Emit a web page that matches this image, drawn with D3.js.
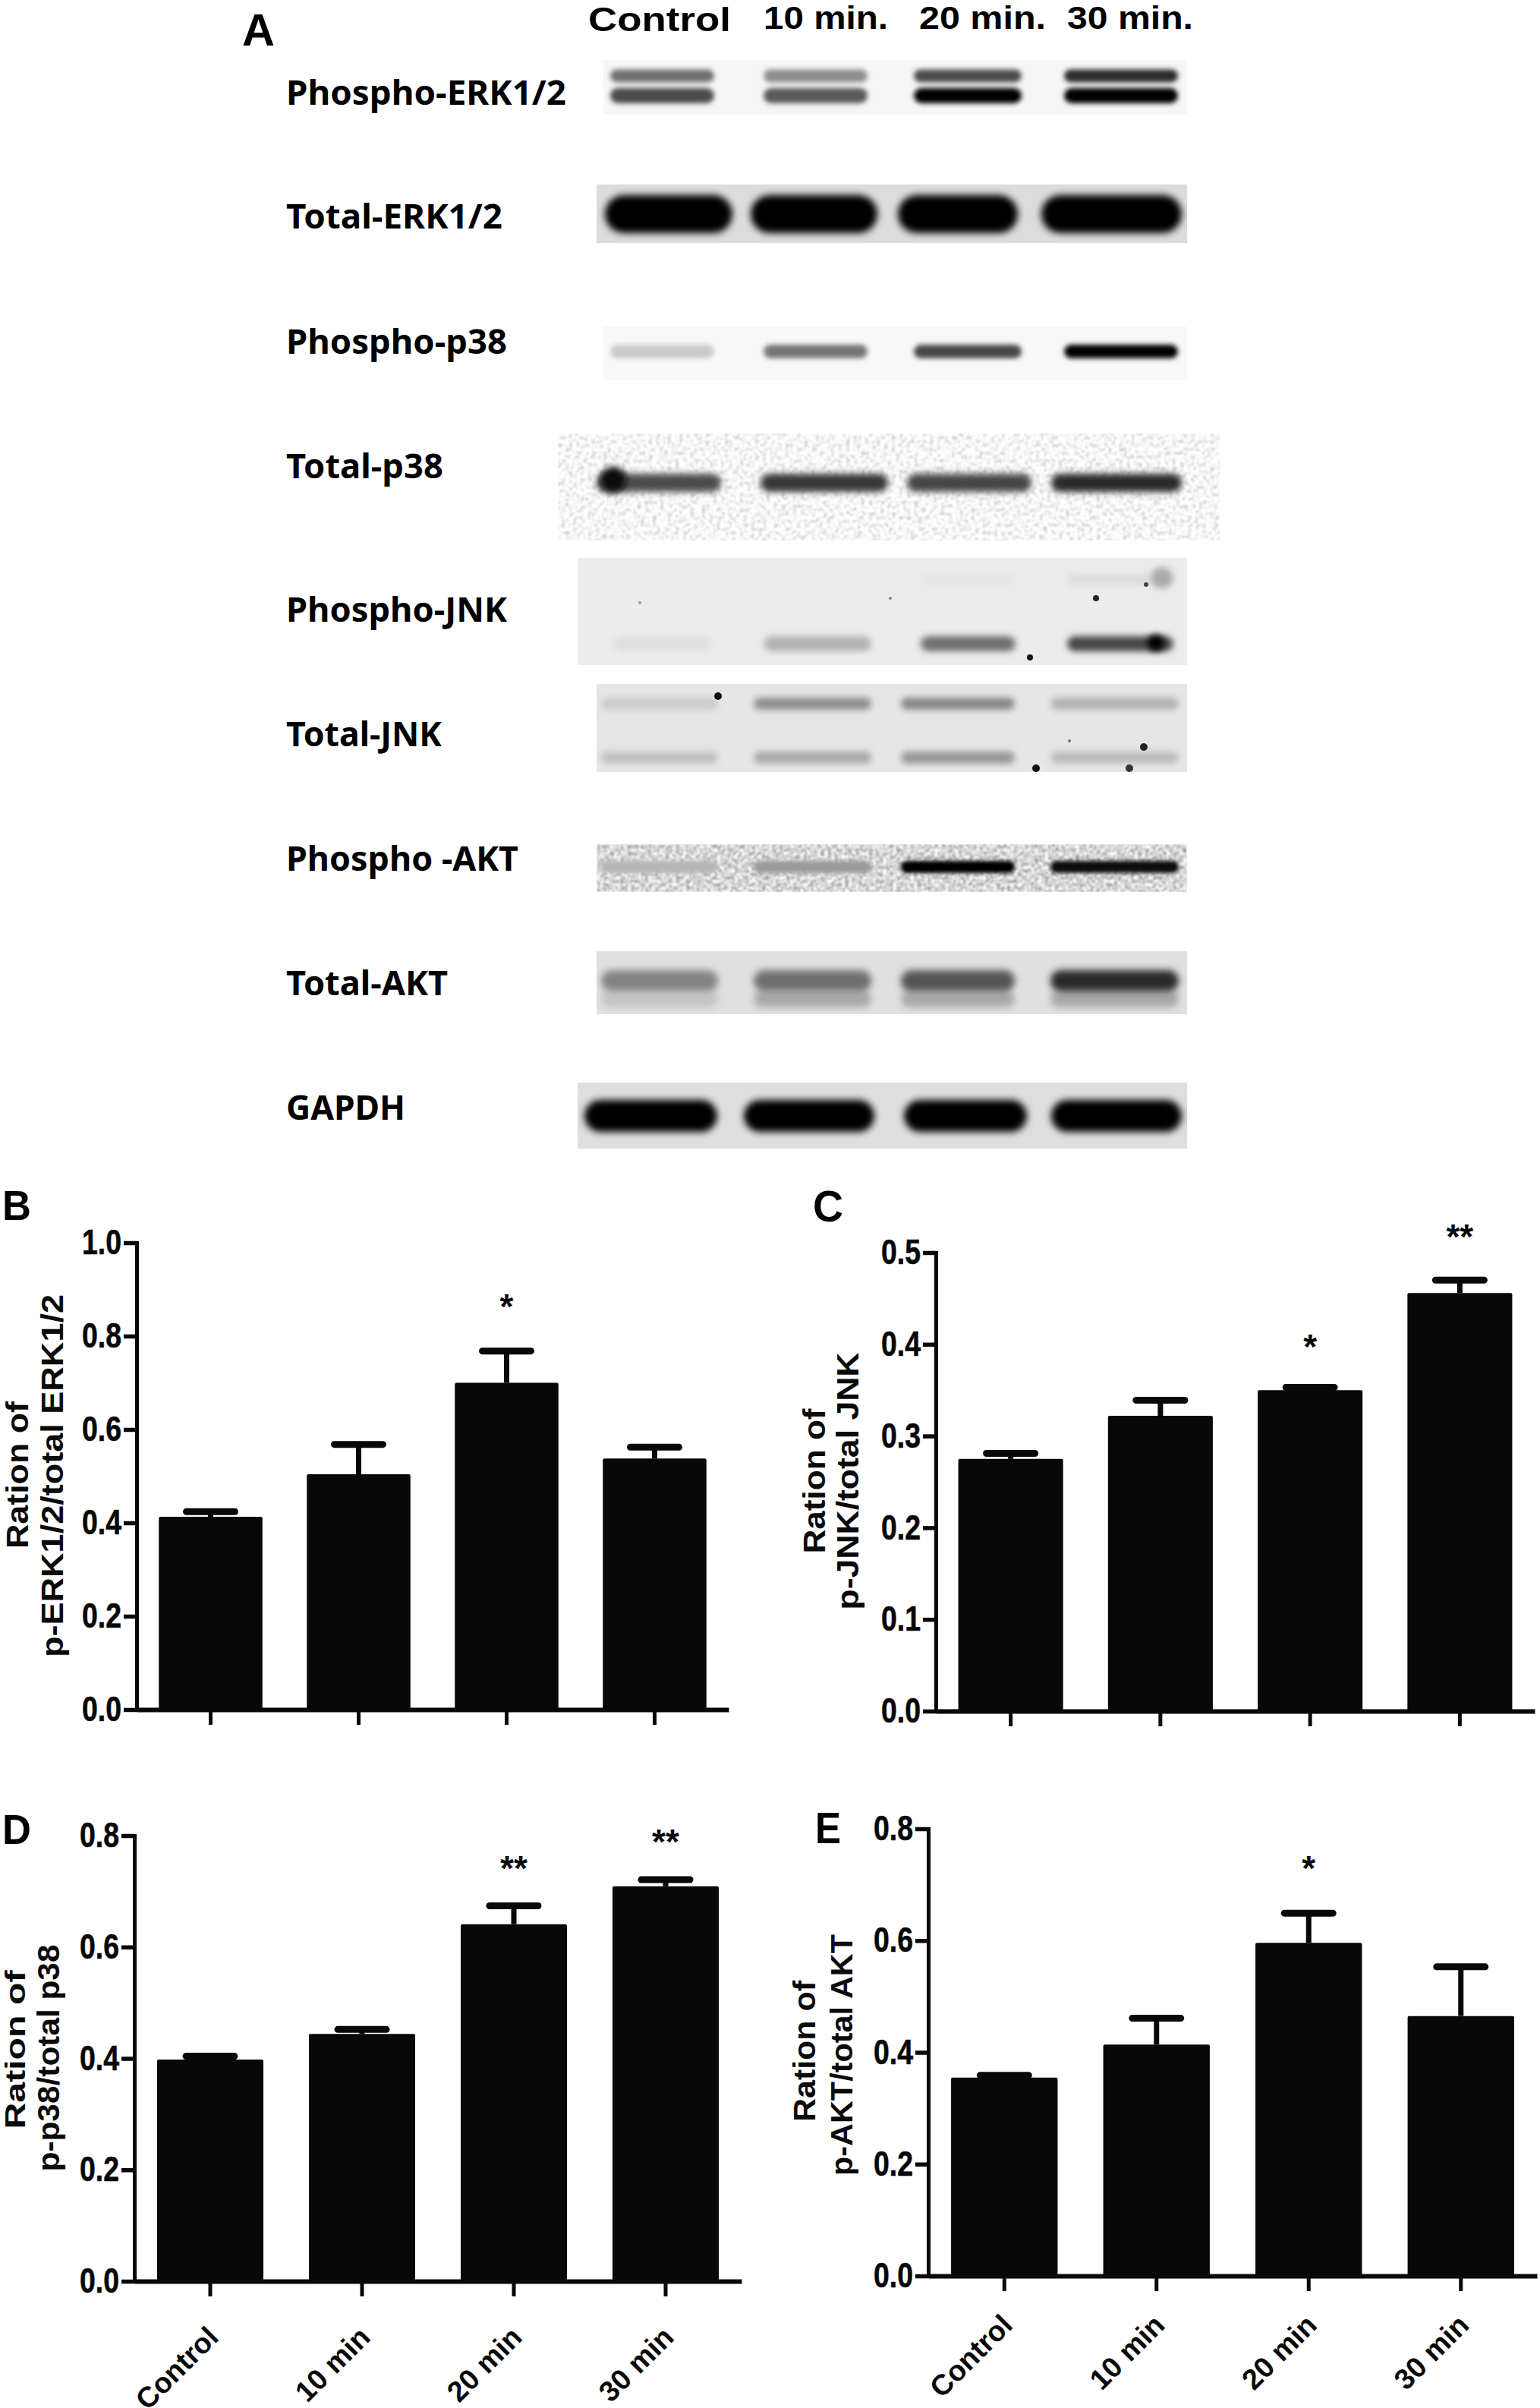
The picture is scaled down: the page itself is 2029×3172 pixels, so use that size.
<!DOCTYPE html>
<html><head><meta charset="utf-8">
<script src="https://cdnjs.cloudflare.com/ajax/libs/d3/7.8.5/d3.min.js"></script>
<style>html,body{margin:0;padding:0;background:#fff}svg{display:block}</style>
</head><body><div id="c"></div>
<script>
// ---------- chart values ----------
const categories = ["Control","10 min","20 min","30 min"];
const erkMean = [0.413,0.504,0.700,0.538];
const erkSem  = [0.011,0.064,0.068,0.024];
const erkStars = ["","","*",""];
const erkStarLevel = [0,0,0.87,0];
const erkTicks = [0,0.2,0.4,0.6,0.8,1.0];
const jnkMean = [0.275,0.322,0.350,0.456];
const jnkSem  = [0.006,0.017,0.003,0.014];
const jnkStars = ["","","*","**"];
const jnkStarLevel = [0,0,0.401,0.521];
const jnkTicks = [0,0.1,0.2,0.3,0.4,0.5];
const p38Mean = [0.398,0.444,0.641,0.709];
const p38Sem  = [0.006,0.008,0.033,0.012];
const p38Stars = ["","","**","**"];
const p38StarLevel = [0,0,0.747,0.794];
const p38Ticks = [0,0.2,0.4,0.6,0.8];
const aktMean = [0.355,0.414,0.596,0.465];
const aktSem  = [0.004,0.047,0.053,0.088];
const aktStars = ["","","*",""];
const aktStarLevel = [0,0,0.735,0];
const aktTicks = [0,0.2,0.4,0.6,0.8];

// ---------- blot band strengths, one per lane ----------
const laneHeaders = ["Control","10 min.","20 min.","30 min."];
const blotNames = ["Phospho-ERK1/2","Total-ERK1/2","Phospho-p38","Total-p38","Phospho-JNK","Total-JNK","Phospho -AKT","Total-AKT","GAPDH"];
const pErkUpper = [0.55,0.42,0.70,0.85];
const pErkLower = [0.70,0.64,1.00,1.00];
const tErk = [1,1,1,1];
const pP38 = [0.16,0.52,0.72,1.00];
const tP38 = [0.70,0.78,0.72,0.84];
const pJnkUpper = [0,0,0.04,0.08];
const pJnkLower = [0.07,0.26,0.55,0.72];
const tJnkUpper = [0.16,0.42,0.45,0.26];
const tJnkLower = [0.20,0.30,0.38,0.22];
const pAkt = [0.24,0.36,1.00,0.97];
const tAktUpper = [0.46,0.55,0.66,0.84];
const tAktLower = [0.18,0.30,0.30,0.30];
const gapdh = [1,1,1,1];

// ---------- layout ----------
const W=2029,H=3172;
const lanesA=[[804,941],[1006,1143],[1204,1346],[1402,1552]];
const lanesB=[[797,965],[989,1156],[1183,1341],[1372,1557]];
const lanesC=[[786,950],[1002,1170],[1195,1359],[1385,1557]];
const lanesD=[[808,937],[1006,1148],[1213,1338],[1406,1546]];
const lanesE=[[792,946],[993,1148],[1187,1337],[1384,1553]];
const lanesF=[[770,945],[980,1152],[1191,1353],[1385,1557]];
const blots=[
 {label:0,base:138,labelW:369,rect:[795,79,769,72],bg:"#f6f6f6",lanes:lanesA,blur:3,bands:[[pErkUpper,100,17],[pErkLower,126,20]]},
 {label:1,base:301,labelW:285,rect:[786,243,778,77],bg:"#dcdcdc",lanes:lanesB,blur:5,bands:[[tErk,282,50]]},
 {label:2,base:466,labelW:291,rect:[795,430,769,70],bg:"#f8f8f8",lanes:lanesA,blur:3,bands:[[pP38,463,18]]},
 {label:3,base:630,labelW:207,rect:[735,571,872,141],bg:"#f2f2f2",noise:"nA",lanes:lanesC,blur:4,bands:[[tP38,636,24]]},
 {label:4,base:819,labelW:291,rect:[761,735,803,141],bg:"#ececec",lanes:lanesD,blur:4,bands:[[pJnkUpper,763,14],[pJnkLower,848,20]]},
 {label:5,base:983,labelW:205,rect:[786,901,778,116],bg:"#e6e6e6",lanes:lanesE,blur:4,bands:[[tJnkUpper,927,16],[tJnkLower,998,16]]},
 {label:6,base:1147,labelW:306,rect:[786,1112,778,63],bg:"#d8d8d8",noise:"nB",lanes:lanesE,blur:2.5,bands:[[pAkt,1142,16]]},
 {label:7,base:1311,labelW:213,rect:[786,1253,778,83],bg:"#e0e0e0",lanes:lanesE,blur:5,bands:[[tAktLower,1316,22],[tAktUpper,1292,28]]},
 {label:8,base:1475,labelW:157,rect:[761,1426,803,87],bg:"#dedede",lanes:lanesF,blur:5,bands:[[gapdh,1470,42]]}
];
// image blemishes on the blots: [x, y, radius, grey]
const blemishes=[[1531,761,14,"#aaa"],[1523,847,11,"#000"],[1444,788,4,"#222"],[1357,866,4,"#111"],[1510,770,3,"#444"],[843,794,2,"#999"],[1173,788,2,"#888"],
 [946,917,5,"#111"],[1365,1012,5,"#111"],[1507,984,5,"#222"],[1488,1012,5,"#333"],[1409,976,2,"#777"],
 [808,632,17,"#111"]];
const headerPos=[[775,41,188,45],[1006,38,164,42],[1211,38,167,42],[1406,38,166,42]];
const panelLetters=[["A",319,60,43,60],["B",3,1607,38,55],["C",1071,1609,40,57],["D",3,2429,38,55],["E",1074,2428,34,57]];

const panels=[
 {mean:erkMean,sem:erkSem,stars:erkStars,lvl:erkStarLevel,ticks:erkTicks,top:1.0,x:[180,960],y:[2252,1637],title:["Ration of","p-ERK1/2/total ERK1/2"],tx:[37,83],tc:[1943,1944],tl:[194,478],ts:[40,40],labels:false},
 {mean:jnkMean,sem:jnkSem,stars:jnkStars,lvl:jnkStarLevel,ticks:jnkTicks,top:0.5,x:[1233,2022],y:[2254,1650],title:["Ration of","p-JNK/total JNK"],tx:[1087,1131],tc:[1951,1951],tl:[191,339],ts:[41,41],labels:false},
 {mean:p38Mean,sem:p38Sem,stars:p38Stars,lvl:p38StarLevel,ticks:p38Ticks,top:0.8,x:[177,977],y:[3005,2418],title:["Ration of","p-p38/total p38"],tx:[33,78],tc:[2700,2711],tl:[209,299],ts:[36,41],labels:true,ldy:76},
 {mean:aktMean,sem:aktSem,stars:aktStars,lvl:aktStarLevel,ticks:aktTicks,top:0.8,x:[1223,2025],y:[2998,2409],title:["Ration of","p-AKT/total AKT"],tx:[1074,1123],tc:[2702,2707],tl:[186,318],ts:[41,41],labels:true,ldy:67}
];

const BOLD='"Liberation Sans",Arial,sans-serif';
const svg=d3.select("#c").append("svg").attr("width",W).attr("height",H).attr("viewBox",`0 0 ${W} ${H}`);
svg.append("rect").attr("width",W).attr("height",H).attr("fill","#fff");
const defs=svg.append("defs");
[2.5,3,4,5].forEach(b=>defs.append("filter").attr("id","b"+String(b).replace(".","_"))
  .attr("x","-30%").attr("y","-80%").attr("width","160%").attr("height","260%")
  .append("feGaussianBlur").attr("stdDeviation",b));
function noise(id,freq,k,base){
  const f=defs.append("filter").attr("id",id).attr("x",0).attr("y",0).attr("width","100%").attr("height","100%").attr("color-interpolation-filters","sRGB");
  f.append("feTurbulence").attr("type","fractalNoise").attr("baseFrequency",freq).attr("numOctaves",2).attr("seed",4).attr("result","t");
  const o=base-k*0.5;
  f.append("feColorMatrix").attr("in","t").attr("type","matrix").attr("values",`${k} 0 0 0 ${o} ${k} 0 0 0 ${o} ${k} 0 0 0 ${o} 0 0 0 0 1`).attr("result","m");
  f.append("feGaussianBlur").attr("stdDeviation",0.8).attr("result","s");
  f.append("feComposite").attr("in","s").attr("in2","SourceAlpha").attr("operator","in");
}
noise("nA",0.2,0.55,0.97);
noise("nB",0.22,0.8,0.84);

// ---------- panel A ----------
const shade=d3.scaleLinear().domain([0,1]).range(["#efefef","#060606"]);
const gA=svg.append("g");
blots.forEach(r=>{
  const g=gA.append("g");
  g.append("rect").attr("x",r.rect[0]).attr("y",r.rect[1]).attr("width",r.rect[2]).attr("height",r.rect[3])
    .attr("fill",r.bg).attr("filter",r.noise?`url(#${r.noise})`:null);
  r.bands.forEach(([vals,cy,h])=>{
    g.selectAll(null).data(vals).join("rect")
      .attr("x",(d,i)=>r.lanes[i][0]).attr("width",(d,i)=>r.lanes[i][1]-r.lanes[i][0])
      .attr("y",cy-h/2).attr("height",h).attr("rx",h/2)
      .attr("fill",d=>shade(d)).attr("opacity",d=>d===0?0:1)
      .attr("filter",`url(#b${String(r.blur).replace(".","_")})`);
  });
  gA.append("text").attr("x",377).attr("y",r.base).text(blotNames[r.label])
    .attr("font-family",'"Noto Sans",sans-serif').attr("font-weight",700).attr("font-size",45)
    .attr("textLength",r.labelW).attr("lengthAdjust","spacingAndGlyphs").attr("fill","#000");
});
gA.selectAll("circle.bl").data(blemishes).join("circle").attr("class","bl")
  .attr("cx",d=>d[0]).attr("cy",d=>d[1]).attr("r",d=>d[2]).attr("fill",d=>d[3])
  .attr("filter",d=>d[2]>8?"url(#b4)":null);
gA.selectAll("text.h").data(laneHeaders).join("text").attr("class","h")
  .attr("x",(d,i)=>headerPos[i][0]).attr("y",(d,i)=>headerPos[i][1]).text(d=>d)
  .attr("font-family",BOLD).attr("font-weight",700).attr("font-size",(d,i)=>headerPos[i][3])
  .attr("textLength",(d,i)=>headerPos[i][2]).attr("lengthAdjust","spacingAndGlyphs");
svg.selectAll("text.pl").data(panelLetters).join("text").attr("class","pl")
  .attr("x",d=>d[1]).attr("y",d=>d[2]).text(d=>d[0]).attr("font-family",BOLD).attr("font-weight",700)
  .attr("font-size",d=>d[4]).attr("textLength",d=>d[3]).attr("lengthAdjust","spacingAndGlyphs");

// ---------- panels B-E ----------
panels.forEach(p=>{
  const g=svg.append("g");
  const xS=d3.scaleBand().domain(categories).range(p.x).paddingInner(0.3).paddingOuter(0.15);
  const yS=d3.scaleLinear().domain([0,p.top]).range(p.y);
  const cx=i=>xS(categories[i])+xS.bandwidth()/2;
  // error bars
  const eb=g.append("g").attr("stroke","#080808");
  eb.selectAll("line.st").data(p.mean).join("line").attr("class","st")
    .attr("x1",(d,i)=>cx(i)).attr("x2",(d,i)=>cx(i))
    .attr("y1",d=>yS(d)).attr("y2",(d,i)=>yS(d+p.sem[i])).attr("stroke-width",7);
  eb.selectAll("line.cap").data(p.mean).join("line").attr("class","cap")
    .attr("x1",(d,i)=>cx(i)-32).attr("x2",(d,i)=>cx(i)+32)
    .attr("y1",(d,i)=>yS(d+p.sem[i])).attr("y2",(d,i)=>yS(d+p.sem[i]))
    .attr("stroke-width",9).attr("stroke-linecap","round");
  // bars
  g.selectAll("rect.bar").data(p.mean).join("rect").attr("class","bar")
    .attr("x",(d,i)=>xS(categories[i])).attr("width",xS.bandwidth())
    .attr("y",d=>yS(d)).attr("height",d=>yS(0)-yS(d)+2).attr("rx",2).attr("fill","#080808");
  // axes
  const ya=g.append("g").attr("transform",`translate(${p.x[0]},0)`)
    .call(d3.axisLeft(yS).tickValues(p.ticks).tickSize(17).tickSizeOuter(0).tickPadding(3).tickFormat(d3.format(".1f")));
  ya.select(".domain").attr("stroke","#080808").attr("stroke-width",5).attr("stroke-linecap","square");
  ya.selectAll(".tick line").attr("stroke","#080808").attr("stroke-width",5.5);
  ya.selectAll(".tick text").attr("fill","#080808").attr("font-family",BOLD).attr("font-weight",700).attr("font-size",46)
    .attr("textLength",52).attr("lengthAdjust","spacingAndGlyphs").attr("stroke","#080808").attr("stroke-width",0.6);
  const xa=g.append("g").attr("transform",`translate(0,${p.y[0]})`)
    .call(d3.axisBottom(xS).tickSize(20).tickSizeOuter(0));
  xa.select(".domain").attr("stroke","#080808").attr("stroke-width",6);
  xa.selectAll(".tick line").attr("stroke","#080808").attr("stroke-width",5);
  if(p.labels){
    xa.selectAll(".tick text").attr("fill","#080808").attr("font-family",BOLD).attr("font-weight",700).attr("font-size",38)
      .attr("x",0).attr("y",0).attr("dy",0).attr("text-anchor","end")
      .attr("transform",`translate(13,${p.ldy}) rotate(-45)`);
  } else xa.selectAll(".tick text").remove();
  // significance stars
  g.selectAll("text.star").data(p.stars).join("text").attr("class","star")
    .attr("x",(d,i)=>cx(i)).attr("y",(d,i)=>yS(p.lvl[i])+20).text(d=>d)
    .attr("text-anchor","middle").attr("font-family",BOLD).attr("font-weight",700).attr("font-size",46).attr("fill","#080808");
  // titles
  p.title.forEach((t,k)=>{
    g.append("text").attr("transform",`translate(${p.tx[k]},${p.tc[k]}) rotate(-90)`)
      .attr("text-anchor","middle").text(t)
      .attr("font-family",BOLD).attr("font-weight",700).attr("font-size",p.ts[k]).attr("fill","#0a0a0a")
      .attr("textLength",p.tl[k]).attr("lengthAdjust","spacingAndGlyphs");
  });
});
</script></body></html>
